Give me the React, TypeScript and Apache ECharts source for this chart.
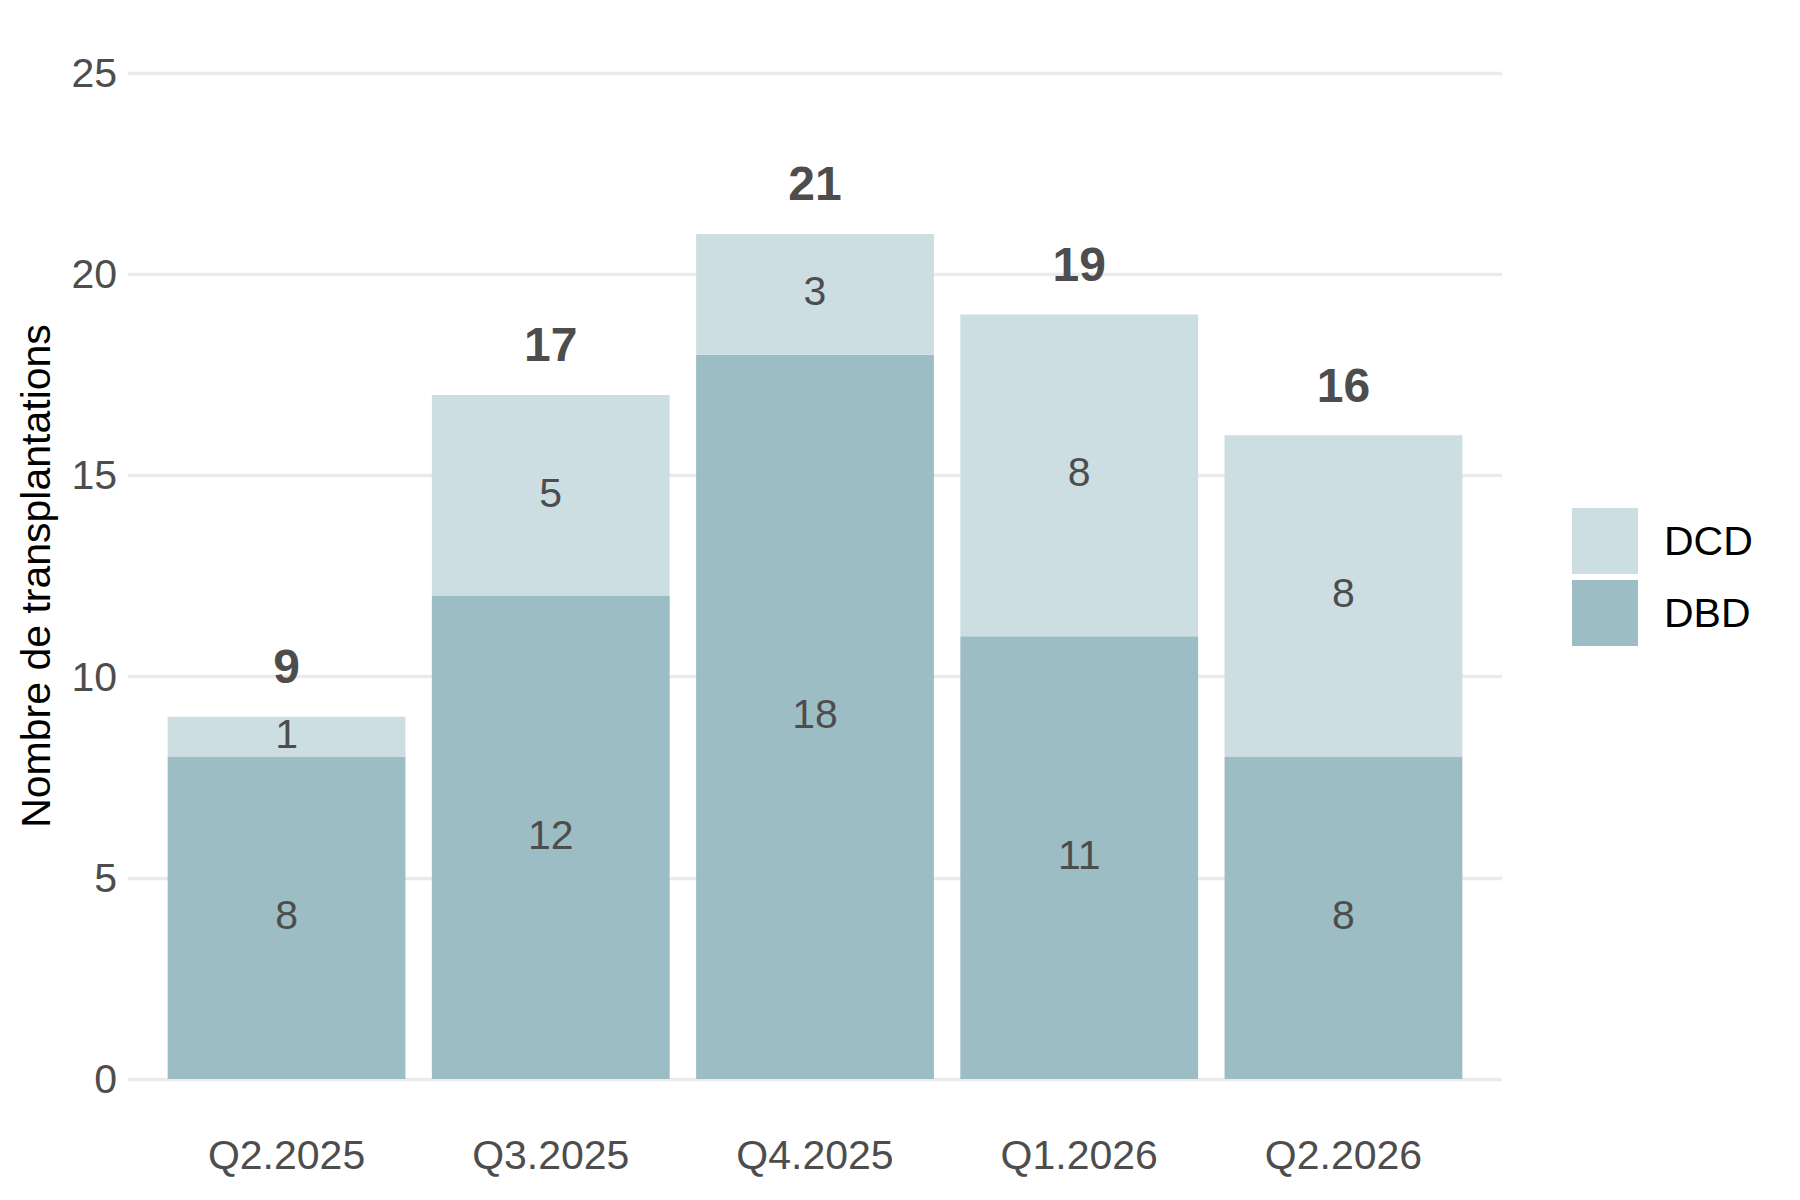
import React, { useEffect, useRef } from 'react';
import * as echarts from 'echarts';

const quarters = ['Q2.2025', 'Q3.2025', 'Q4.2025', 'Q1.2026', 'Q2.2026'];
const dbdValues = [8, 12, 18, 11, 8];
const dcdValues = [1, 5, 3, 8, 8];
const yTicks = [0, 5, 10, 15, 20, 25];

const FONT = '"Liberation Sans", Arial, sans-serif';
const TEXT_GREY = '#4d4d4d';
const DBD_COLOR = '#9dbdc5';
const DCD_COLOR = '#cddee3';

// panel spans 0.6 category width on each side (ggplot style), bars grid uses 0.5
const PANEL_LEFT = 128;
const PANEL_RIGHT = 1502;
const UNIT = (PANEL_RIGHT - PANEL_LEFT) / (quarters.length + 0.2);
const PAD = UNIT * 0.1;

const App: React.FC = () => {
  const chartRef = useRef<HTMLDivElement>(null);

  useEffect(() => {
    document.body.style.margin = '0';
    if (!chartRef.current) return;
    const chart = echarts.init(chartRef.current, undefined, { renderer: 'svg' });

    const totals = dbdValues.map((v, i) => v + dcdValues[i]);
    const yMin = yTicks[0];
    const yMax = yTicks[yTicks.length - 1];

    const barLabel = {
      show: true,
      position: 'inside',
      offset: [0, -3],
      fontSize: 41,
      color: TEXT_GREY,
      fontFamily: FONT,
    };

    const option = {
      animation: false,
      backgroundColor: '#ffffff',
      textStyle: { fontFamily: FONT },
      grid: [
        { left: PANEL_LEFT, right: 1800 - PANEL_RIGHT, top: 73, bottom: 121 },
        { left: PANEL_LEFT + PAD, right: 1800 - PANEL_RIGHT + PAD, top: 73, bottom: 121 },
      ],
      legend: {
        data: ['DCD', 'DBD'],
        orient: 'vertical',
        left: 1567,
        top: 503,
        itemWidth: 66,
        itemHeight: 66,
        itemGap: 6,
        icon: 'rect',
        selectedMode: false,
        textStyle: { fontSize: 41, color: '#000000', fontFamily: FONT, padding: [0, 0, 0, 21] },
      },
      xAxis: [
        {
          type: 'value',
          gridIndex: 0,
          min: 0,
          max: 1,
          show: false,
        },
        {
          type: 'category',
          gridIndex: 1,
          data: quarters,
          axisLine: { show: false },
          axisTick: { show: false },
          axisLabel: { fontSize: 41, color: TEXT_GREY, fontFamily: FONT, margin: 55 },
        },
      ],
      yAxis: [
        {
          type: 'value',
          gridIndex: 0,
          min: yMin,
          max: yMax,
          interval: 5,
          name: 'Nombre de transplantations',
          nameLocation: 'middle',
          nameGap: 72,
          nameTextStyle: { fontSize: 41, color: '#000000', fontFamily: FONT },
          axisLine: { show: false },
          axisTick: { show: false },
          axisLabel: { fontSize: 41, color: TEXT_GREY, fontFamily: FONT, margin: 11 },
          splitLine: { lineStyle: { color: '#ebebeb', width: 3.3 } },
        },
        {
          type: 'value',
          gridIndex: 1,
          min: yMin,
          max: yMax,
          interval: 5,
          show: false,
          splitLine: { show: false },
        },
      ],
      series: [
        {
          name: 'DBD',
          type: 'bar',
          xAxisIndex: 1,
          yAxisIndex: 1,
          stack: 'total',
          barCategoryGap: '10%',
          data: dbdValues,
          itemStyle: { color: DBD_COLOR },
          label: barLabel,
        },
        {
          name: 'DCD',
          type: 'bar',
          xAxisIndex: 1,
          yAxisIndex: 1,
          stack: 'total',
          barCategoryGap: '10%',
          data: dcdValues,
          itemStyle: { color: DCD_COLOR },
          label: barLabel,
        },
        {
          name: 'Total',
          type: 'scatter',
          xAxisIndex: 1,
          yAxisIndex: 1,
          symbolSize: 1,
          silent: true,
          itemStyle: { opacity: 0 },
          data: totals,
          label: {
            show: true,
            position: 'inside',
            offset: [0, -50],
            fontSize: 48,
            fontWeight: 'bold',
            color: TEXT_GREY,
            opacity: 1,
            fontFamily: FONT,
          },
        },
      ],
    };

    chart.setOption(option);
    return () => {
      chart.dispose();
    };
  }, []);

  return <div ref={chartRef} style={{ width: '1800px', height: '1200px' }} />;
};

export default App;
